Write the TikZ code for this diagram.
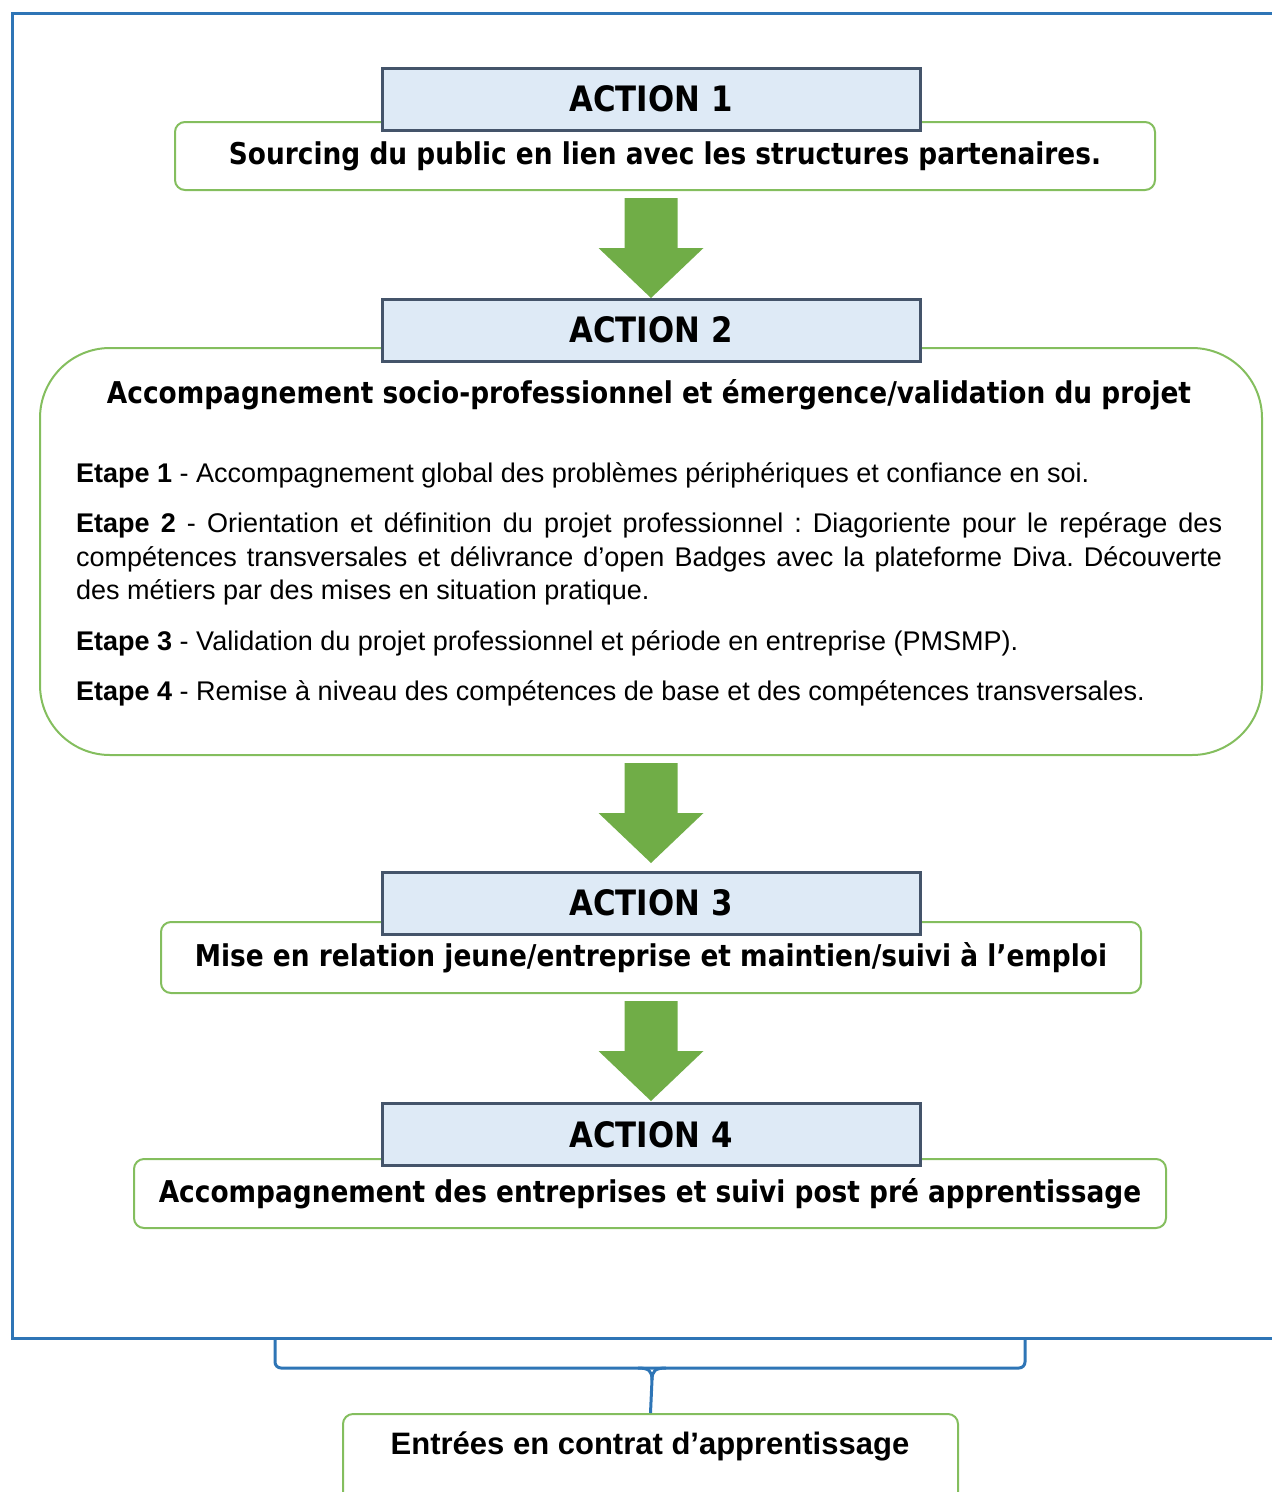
\documentclass[tikz,border=0pt]{standalone}
\usepackage{fontspec}
\setmainfont{Liberation Sans}
\newfontfamily\headfont{DejaVu Sans}[FakeStretch=0.88]
\usepackage{tikz}
\usetikzlibrary{calc}

\definecolor{framblue}{HTML}{2E75B6}
\definecolor{boxgreen}{HTML}{84BE5E}
\definecolor{arrgreen}{HTML}{70AD47}
\definecolor{headfill}{HTML}{DEEAF6}
\definecolor{headdraw}{HTML}{44546A}

\begin{document}
\frenchspacing
\begin{tikzpicture}[x=1pt,y=-1pt,inner sep=0pt,
  action/.style={draw=headdraw,fill=headfill,line width=3pt,minimum width=538pt,minimum height=62pt,font=\headfont\bfseries\fontsize{35}{40}\selectfont},
  gbox/.style={draw=boxgreen,line width=2pt,rounded corners=10pt,font=\headfont\bfseries\fontsize{30}{36}\selectfont},
  bigarrow/.style={fill=arrgreen},
  frame/.style={draw=framblue,line width=3pt}]
\useasboundingbox (0,0) rectangle (1272,1492);
\clip (0,0) rectangle (1272,1492);

% cadre bleu
\draw[frame] (1290,13) -- (12,13) -- (12,1338) -- (1290,1338);

% action 1
\node[gbox,minimum width=980pt,minimum height=68pt] (box1) at (665,156) {Sourcing du public en lien avec les structures partenaires.};
\node[action] (act1) at (651,99) {ACTION 1};

% action 2
\node[gbox,rounded corners=70pt,minimum width=1222pt,minimum height=407pt] (box2) at (651,551.5) {};
\node[action] (act2) at (651,330) {ACTION 2};
\node[font=\headfont\bfseries\fontsize{30}{36}\selectfont] (titre2) at (649,395) {Accompagnement socio-professionnel et émergence/validation du projet};
\node[anchor=north west,text width=1146pt,align=justify,font=\fontsize{27}{33.5}\selectfont] (etapes) at (76,462) {%
\textbf{Etape 1} - Accompagnement global des problèmes périphériques et confiance en soi.\par\vspace{17pt}
\textbf{Etape 2} - Orientation et définition du projet professionnel : Diagoriente pour le repérage des\linebreak
compétences transversales et délivrance d’open Badges avec la plateforme Diva. Découverte\linebreak
des métiers par des mises en situation pratique.\par\vspace{17pt}
\textbf{Etape 3} - Validation du projet professionnel et période en entreprise (PMSMP).\par\vspace{17pt}
\textbf{Etape 4} - Remise à niveau des compétences de base et des compétences transversales.};

% action 3
\node[gbox,minimum width=980pt,minimum height=71pt] (box3) at (651,957.5) {Mise en relation jeune/entreprise et maintien/suivi à l’emploi};
\node[action] (act3) at (651,903) {ACTION 3};

% action 4
\node[gbox,minimum width=1032pt,minimum height=69pt] (box4) at (650,1193.5) {Accompagnement des entreprises et suivi post pré apprentissage};
\node[action] (act4) at (651,1134.5) {ACTION 4};

% fleches vertes
\foreach \a/\b in {box1/act2,box2/act3,box3/act4}
  \fill[bigarrow] let \p1=(\a.south), \p2=(\b.north) in
    (\x2-26.5pt,\y1-7pt) -- (\x2+26.5pt,\y1-7pt) -- (\x2+26.5pt,\y1-57pt)
    -- (\x2+52.5pt,\y1-57pt) -- (\x2,\y1-107pt) -- (\x2-52.5pt,\y1-57pt)
    -- (\x2-26.5pt,\y1-57pt) -- cycle;

% sortie
\node[gbox,minimum width=615pt,minimum height=117pt,anchor=north] (entree) at (650.5,1413) {};
\node[font=\bfseries\fontsize{31}{36}\selectfont] (entreetxt) at (650,1446) {Entrées en contrat d’apprentissage};

% accolade
\coordinate (pointe) at (652,1380);
\draw[frame,rounded corners=6pt] (275,1338) -- (275,1368) -- (1025,1368) -- (1025,1338);
\draw[frame] (638,1368) .. controls (649,1368) and (652,1371) .. (pointe);
\draw[frame] (666,1368) .. controls (655,1368) and (652,1371) .. (pointe);
\draw[frame] (pointe) -- (entree.north);
\end{tikzpicture}
\end{document}
